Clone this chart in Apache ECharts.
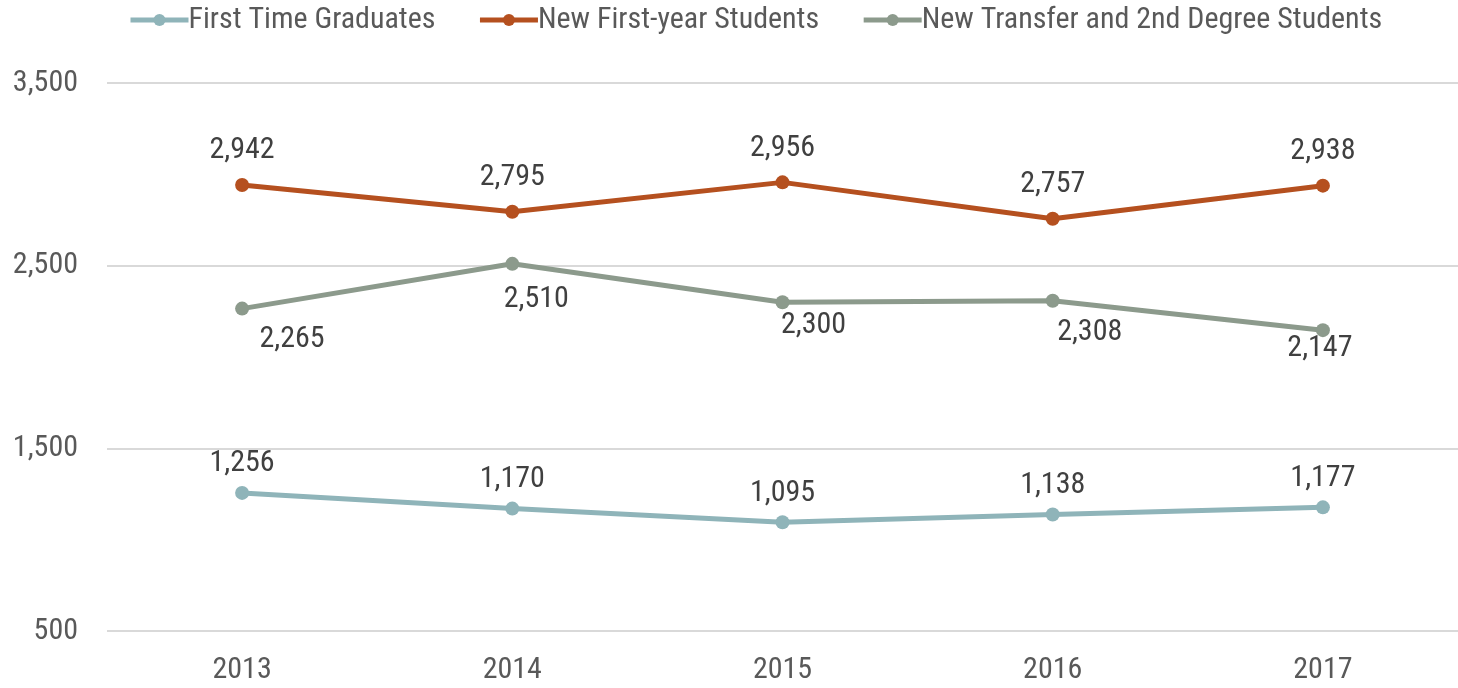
<!DOCTYPE html>
<html><head><meta charset="utf-8">
<script src="https://cdn.jsdelivr.net/npm/echarts@6/dist/echarts.min.js"></script>
<style>html,body{margin:0;padding:0;background:#fff}#c{width:1458px;height:688px}</style>
</head><body><div id="c"></div>
<script>
const categories = ['2013','2014','2015','2016','2017'];
const graduates = [1256, 1170, 1095, 1138, 1177];
const firstYear = [2942, 2795, 2956, 2757, 2938];
const transfer = [2265, 2510, 2300, 2308, 2147];
const yTicks = [500, 1500, 2500, 3500];

// label offsets (styling only)
const transferLabelOffsets = [[50, 4], [24, 9], [31, -4], [37, 5], [-3, -9]];
const fontFam = '"Roboto Condensed", "Liberation Sans Narrow", Roboto, sans-serif';

const chart = echarts.init(document.getElementById('c'));
const fmt = v => v.toLocaleString('en-US');
function mk(name, data, color, pos, dist, offsets) {
  return {
    name, type: 'line', data: data.map((v, i) => ({
      value: v,
      label: offsets ? { offset: offsets[i] } : undefined
    })),
    symbol: 'circle', symbolSize: 14,
    lineStyle: { width: 5, color }, itemStyle: { color },
    label: { show: true, position: pos, distance: dist, color: '#404040', fontSize: 30, fontFamily: fontFam,
      formatter: p => fmt(p.value) },
    animation: false
  };
}
chart.setOption({
  animation: false,
  legend: {
    top: 0, left: 123, itemWidth: 58, itemHeight: 15, itemGap: 42,
    lineStyle: { width: 5 },
    textStyle: { color: '#595959', fontSize: 30, fontFamily: fontFam, padding: [0, 0, 0, -5] },
    data: ['First Time Graduates', 'New First-year Students', 'New Transfer and 2nd Degree Students']
  },
  grid: { left: 107, right: 0, top: 83, bottom: 57 },
  xAxis: {
    type: 'category', data: categories, boundaryGap: true,
    axisLine: { show: false }, axisTick: { show: false },
    axisLabel: { color: '#595959', fontSize: 30, fontFamily: fontFam, margin: 24 }
  },
  yAxis: {
    type: 'value', min: yTicks[0], max: yTicks[yTicks.length - 1], interval: 1000,
    axisLine: { show: false }, axisTick: { show: false },
    splitLine: { lineStyle: { color: '#d9d9d9', width: 2 } },
    axisLabel: { color: '#595959', fontSize: 30, fontFamily: fontFam, margin: 29, formatter: v => fmt(v) }
  },
  series: [
    mk('First Time Graduates', graduates, '#8fb4b9', 'top', 7),
    mk('New First-year Students', firstYear, '#b5501f', 'top', 12),
    mk('New Transfer and 2nd Degree Students', transfer, '#8c9a8c', 'bottom', 5, transferLabelOffsets)
  ]
});
</script></body></html>
